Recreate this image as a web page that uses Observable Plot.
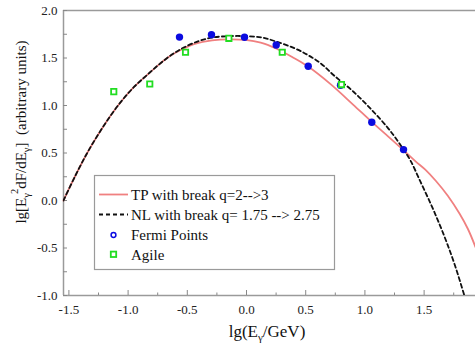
<!DOCTYPE html>
<html><head><meta charset="utf-8">
<script src="https://cdn.jsdelivr.net/npm/d3@7"></script>
<script src="https://cdn.jsdelivr.net/npm/@observablehq/plot@0.6"></script>
<style>
body{margin:0;background:#fff;overflow:hidden}
</style>
</head><body><div id="chart"></div>
<script>
// TP with break q=2-->3 (red solid)
const tpX = [-1.546,-1.45,-1.35,-1.25,-1.15,-1.05,-0.95,-0.85,-0.75,-0.67,-0.60,-0.53,-0.45,-0.37,-0.29,-0.15,-0.01,0.12,0.25,0.40,0.52,0.71,0.90,1.06,1.20,1.33,1.43,1.51,1.60,1.70,1.80,1.87,1.934];
const tpY = [0.0,0.25,0.49,0.70,0.89,1.055,1.195,1.31,1.42,1.50,1.555,1.60,1.643,1.670,1.686,1.696,1.69,1.662,1.60,1.50,1.41,1.225,1.01,0.825,0.67,0.525,0.41,0.325,0.205,0.05,-0.14,-0.30,-0.49];
// NL with break q=1.75-->2.75 (black dashed)
const nlX = [-1.546,-1.45,-1.35,-1.25,-1.15,-1.05,-0.95,-0.85,-0.75,-0.67,-0.60,-0.53,-0.40,-0.29,-0.15,-0.01,0.13,0.25,0.41,0.52,0.63,0.737,0.906,1.061,1.19,1.258,1.326,1.385,1.47,1.554,1.625,1.695,1.765,1.84];
const nlY = [0.0,0.25,0.49,0.70,0.89,1.055,1.195,1.31,1.42,1.50,1.56,1.61,1.68,1.715,1.73,1.73,1.715,1.673,1.60,1.53,1.44,1.318,1.142,0.949,0.77,0.66,0.536,0.42,0.195,-0.03,-0.235,-0.455,-0.70,-1.0];
// Fermi points
const fermiX = [-0.566,-0.296,-0.017,0.251,0.521,0.794,1.058,1.326];
const fermiY = [1.72,1.746,1.718,1.637,1.413,1.213,0.823,0.536];
// Agile points
const agileX = [-1.121,-0.817,-0.515,-0.149,0.302,0.802];
const agileY = [1.146,1.226,1.56,1.707,1.56,1.22];
// ticks
const xTicks = [-1.5,-1.0,-0.5,0.0,0.5,1.0,1.5];
const xMinor = [-1.25,-0.75,-0.25,0.25,0.75,1.25,1.75];
const yTicks = [-1.0,-0.5,0.0,0.5,1.0,1.5,2.0];
const yMinor = [-0.75,-0.25,0.25,0.75,1.25,1.75];
const xDomain = [-1.5456,1.934];
const yDomain = [-1.0,2.0];

const tp = tpX.map((x,i)=>({x,y:tpY[i]}));
const nl = nlX.map((x,i)=>({x,y:nlY[i]}));
const fermi = fermiX.map((x,i)=>({x,y:fermiY[i]}));
const agile = agileX.map((x,i)=>({x,y:agileY[i]}));

const ff = "'Liberation Serif'";
const fmt = d => d.toFixed(1);
const plot = Plot.plot({
  width: 475, height: 344,
  marginLeft: 63, marginRight: 0, marginTop: 10, marginBottom: 49,
  style: {fontSize: "13px", background: "#fff", color: "#222"},
  x: {domain: xDomain},
  y: {domain: yDomain},
  marks: [
    Plot.ruleY([yDomain[1]], {stroke: "#9a9a9a", strokeWidth: 1.5}),
    Plot.ruleY([yDomain[0]], {stroke: "#9a9a9a", strokeWidth: 1.5}),
    Plot.ruleX([xDomain[0]], {stroke: "#9a9a9a", strokeWidth: 1.5}),
    Plot.axisX({ticks: xTicks, tickSize: 0, tickPadding: 9, tickFormat: fmt, label: null, fill: "#222"}),
    Plot.axisX({ticks: xTicks, tickSize: -5, tickFormat: () => "", label: null, stroke: "#888"}),
    Plot.axisX({ticks: xMinor, tickSize: -2.5, tickFormat: () => "", label: null, stroke: "#888"}),
    Plot.axisY({ticks: yTicks, tickSize: 0, tickPadding: 6, tickFormat: fmt, label: null, fill: "#222"}),
    Plot.axisY({ticks: yTicks, tickSize: -4, tickFormat: () => "", label: null, stroke: "#888"}),
    Plot.axisY({ticks: yMinor, tickSize: -4, tickFormat: () => "", label: null, stroke: "#888"}),
    Plot.line(tp, {x: "x", y: "y", stroke: "#f08080", strokeWidth: 1.8, curve: "catmull-rom"}),
    Plot.line(nl, {x: "x", y: "y", stroke: "#111", strokeWidth: 1.8, strokeDasharray: "4,3", curve: "catmull-rom", clip: true}),
    Plot.dot(fermi, {x: "x", y: "y", r: 3.7, fill: "#0b0be0", stroke: "none"}),
    Plot.dot(agile, {x: "x", y: "y", r: 3.0, symbol: "square", fill: "#fff", stroke: "#22dd22", strokeWidth: 1.8})
  ]
});
document.getElementById("chart").appendChild(plot);

const svg = d3.select(plot);
// Legend
const lg = svg.append("g").attr("fill", "#111").attr("text-anchor", "start");
lg.append("rect").attr("x", 94.5).attr("y", 175.5).attr("width", 240).attr("height", 94).attr("fill", "#fff").attr("stroke", "#9a9a9a").attr("stroke-width", 1.2);
lg.append("line").attr("x1", 99).attr("x2", 128).attr("y1", 194.5).attr("y2", 194.5).attr("stroke", "#f08080").attr("stroke-width", 1.8);
lg.append("text").attr("x", 131).attr("y", 199.5).text("TP with break q=2-->3");
lg.append("line").attr("x1", 99).attr("x2", 128).attr("y1", 214.5).attr("y2", 214.5).attr("stroke", "#111").attr("stroke-width", 1.8).attr("stroke-dasharray", "4,3");
lg.append("text").attr("x", 131).attr("y", 219.5).text("NL with break q= 1.75 --> 2.75");
lg.append("circle").attr("cx", 113.5).attr("cy", 235).attr("r", 2.4).attr("fill", "#fff").attr("stroke", "#0b0be0").attr("stroke-width", 1.5);
lg.append("text").attr("x", 131).attr("y", 240).text("Fermi Points");
lg.append("rect").attr("x", 110.8).attr("y", 251.6).attr("width", 5.4).attr("height", 5.4).attr("fill", "#fff").attr("stroke", "#22dd22").attr("stroke-width", 1.8);
lg.append("text").attr("x", 131).attr("y", 259.5).text("Agile");
lg.selectAll("text").style("font-size", "15px");

// Axis titles
const xt = svg.append("text").attr("fill", "#111")
  .attr("x", 267).attr("y", 337).attr("text-anchor", "middle").style("font-size", "17px");
xt.append("tspan").text("lg(E");
xt.append("tspan").style("font-size", "11px").attr("dy", 4).text("γ");
xt.append("tspan").attr("dy", -4).text("/GeV)");

const yt = svg.append("text").attr("fill", "#111")
  .attr("transform", "translate(26,132) rotate(-90)").attr("text-anchor", "middle").style("font-size", "15px");
yt.append("tspan").text("lg[E");
yt.append("tspan").style("font-size", "10.5px").attr("dy", 4).text("γ");
yt.append("tspan").style("font-size", "10.5px").attr("dy", -12).attr("dx", -1).text("2");
yt.append("tspan").attr("dy", 8).text("dF/dE");
yt.append("tspan").style("font-size", "10.5px").attr("dy", 4).text("γ");
yt.append("tspan").attr("dy", -4).text("]  (arbitrary units)");

// force the serif face on every text element
svg.attr("font-family", null);
svg.selectAll("g").attr("font-family", null);
svg.selectAll("text, tspan").attr("font-family", null).style("font-family", ff);
</script>
</body></html>
